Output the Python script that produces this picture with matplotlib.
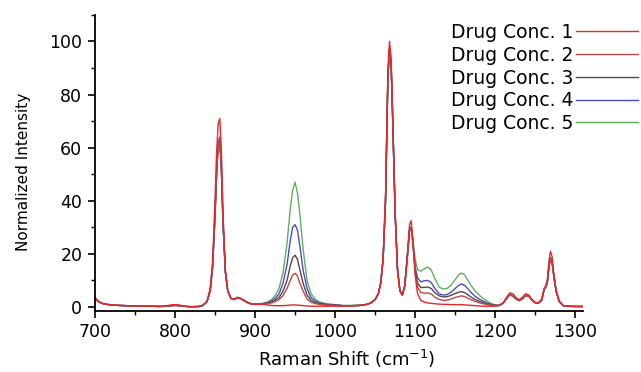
import numpy as np
import matplotlib
matplotlib.use("Agg")
import matplotlib.pyplot as plt
from matplotlib.ticker import MultipleLocator

plt.rcParams['font.family'] = ['DejaVu Sans']

# Raman shift grid (cm^-1), denser around the bands
shift = [700, 703, 706, 710, 715, 720, 730, 740, 750, 760,
         770, 780, 790, 795, 800, 805, 810, 820, 830, 835,
         840, 844, 847, 850, 852, 854, 856, 858, 860, 863,
         866, 870, 875, 878, 882, 886, 890, 895, 900, 905,
         910, 915, 920, 925, 930, 935, 940, 944, 947, 950,
         953, 956, 960, 965, 970, 975, 980, 985, 990, 1000,
         1010, 1020, 1030, 1040, 1045, 1050, 1054, 1057, 1060, 1063,
         1066, 1068, 1070, 1072, 1075, 1078, 1081, 1084, 1087, 1090,
         1093, 1095, 1097, 1100, 1103, 1107, 1112, 1116, 1120, 1125,
         1130, 1135, 1140, 1145, 1150, 1155, 1158, 1162, 1166, 1170,
         1175, 1180, 1185, 1190, 1195, 1200, 1205, 1210, 1214, 1218,
         1222, 1226, 1230, 1234, 1238, 1242, 1246, 1250, 1254, 1258,
         1261, 1263, 1265, 1267, 1269, 1271, 1273, 1276, 1280, 1285,
         1290, 1300, 1310]

conc1 = [3.5, 2.4, 1.8, 1.3, 1.0, 0.8, 0.6, 0.5, 0.4, 0.3,
         0.3, 0.3, 0.5, 0.8, 0.9, 0.8, 0.4, 0.1, 0.2, 0.7,
         2.2, 7, 17, 40, 58, 69, 71, 59, 36, 14,
         6, 3.2, 3.0, 3.6, 3.2, 2.5, 1.8, 1.2, 1.0, 1.0,
         1.0, 0.8, 0.6, 0.5, 0.5, 0.5, 0.6, 0.7, 0.8, 0.8,
         0.7, 0.6, 0.5, 0.4, 0.3, 0.3, 0.3, 0.3, 0.3, 0.3,
         0.3, 0.4, 0.5, 1.0, 1.6, 2.8, 5, 9, 19, 42,
         90, 100, 94, 72, 36, 14, 6, 4.5, 8, 19,
         31, 32.5, 26, 12, 5, 2.5, 1.8, 1.5, 1.4, 1.2,
         1.1, 1.0, 1.0, 0.9, 0.9, 0.9, 0.9, 0.8, 0.7, 0.6,
         0.5, 0.4, 0.3, 0.3, 0.3, 0.3, 0.6, 1.6, 3.6, 5.3,
         5.0, 3.5, 2.7, 3.7, 5.0, 4.5, 2.8, 1.7, 1.6, 3.0,
         7, 8, 10, 17, 21, 19, 13, 6.5, 2.2, 0.5,
         0.3, 0.2, 0.2]

conc2 = [3.5, 2.4, 1.8, 1.3, 1.0, 0.8, 0.6, 0.5, 0.4, 0.3,
         0.3, 0.2, 0.3, 0.5, 0.6, 0.5, 0.3, 0.1, 0.2, 0.6,
         2.0, 6, 15, 34, 50, 61, 63, 52, 32, 13,
         6, 3.2, 3.0, 3.6, 3.2, 2.5, 1.8, 1.2, 1.0, 1.1,
         1.2, 1.3, 1.5, 2.0, 2.8, 4.3, 7, 10, 12, 12.7,
         11.7, 9, 6, 3, 1.8, 1.3, 1.0, 0.8, 0.7, 0.6,
         0.5, 0.5, 0.6, 1.0, 1.6, 2.8, 5, 9, 18, 40,
         87, 97, 91, 70, 35, 14, 6, 4.5, 8, 18,
         29, 30, 24.5, 13, 7.5, 5.5, 5.2, 5.3, 4.9, 3.6,
         2.9, 2.5, 2.6, 3.0, 3.6, 4.0, 4.2, 3.9, 3.3, 2.7,
         2.1, 1.6, 1.2, 0.9, 0.7, 0.5, 0.6, 1.5, 3.2, 4.6,
         4.2, 3.0, 2.4, 3.2, 4.4, 4.0, 2.6, 1.6, 1.5, 2.5,
         6.5, 7.5, 9, 15, 18.5, 17, 12, 6, 2, 0.5,
         0.3, 0.2, 0.2]

conc3 = [3.5, 2.4, 1.8, 1.3, 1.0, 0.8, 0.6, 0.5, 0.4, 0.3,
         0.3, 0.2, 0.3, 0.5, 0.6, 0.5, 0.3, 0.1, 0.2, 0.6,
         2.0, 6, 15, 34, 50, 61, 63, 52, 32, 13,
         6, 3.2, 3.0, 3.6, 3.2, 2.5, 1.8, 1.2, 1.0, 1.1,
         1.2, 1.4, 1.8, 2.5, 3.6, 6, 10, 15.5, 18.5, 19.5,
         18, 14, 9, 4.5, 2.5, 1.7, 1.3, 1.0, 0.9, 0.7,
         0.5, 0.5, 0.6, 1.0, 1.6, 2.8, 5, 9, 18, 40,
         87, 97, 91, 70, 35, 14, 6, 4.5, 8, 18,
         29, 30, 25, 14, 9, 7.3, 7.4, 7.5, 7.0, 5.3,
         4.2, 3.8, 3.9, 4.4, 5.1, 5.6, 5.8, 5.4, 4.6, 3.7,
         2.8, 2.2, 1.6, 1.1, 0.8, 0.6, 0.6, 1.5, 3.2, 4.6,
         4.2, 3.0, 2.4, 3.2, 4.4, 4.0, 2.6, 1.6, 1.5, 2.5,
         6.5, 7.5, 9, 15, 18.5, 17, 12, 6, 2, 0.5,
         0.3, 0.2, 0.2]

conc4 = [3.5, 2.4, 1.8, 1.3, 1.0, 0.8, 0.6, 0.5, 0.4, 0.3,
         0.3, 0.2, 0.3, 0.5, 0.6, 0.5, 0.3, 0.1, 0.2, 0.6,
         2.0, 6, 15, 34, 50, 62, 64, 52, 32, 13,
         6, 3.2, 3.0, 3.6, 3.2, 2.5, 1.8, 1.2, 1.0, 1.1,
         1.3, 1.6, 2.2, 3.2, 5, 9, 16, 25, 30, 31,
         29, 23, 14, 7, 3.5, 2.3, 1.6, 1.2, 1.0, 0.8,
         0.5, 0.5, 0.6, 1.0, 1.6, 2.8, 5, 9, 18, 40,
         87, 97, 91, 70, 35, 14, 6, 4.5, 8, 18,
         29, 30, 25, 15, 11, 9.5, 9.9, 10, 9.2, 6.8,
         5.0, 4.5, 4.7, 5.6, 7.0, 8.3, 8.7, 8.1, 6.8, 5.4,
         4.0, 3.0, 2.2, 1.5, 1.0, 0.7, 0.6, 1.5, 3.2, 4.6,
         4.2, 3.0, 2.4, 3.2, 4.4, 4.0, 2.6, 1.6, 1.5, 2.5,
         6.5, 7.5, 9, 15, 18.5, 17, 12, 6, 2, 0.5,
         0.3, 0.2, 0.2]

conc5 = [3.5, 2.4, 1.8, 1.3, 1.0, 0.8, 0.6, 0.5, 0.4, 0.3,
         0.3, 0.2, 0.3, 0.5, 0.6, 0.5, 0.3, 0.1, 0.2, 0.6,
         2.0, 6, 15, 34, 50, 61, 63, 52, 32, 13,
         6, 3.2, 3.0, 3.6, 3.2, 2.5, 1.8, 1.2, 1.0, 1.1,
         1.4, 1.8, 2.6, 4.2, 7, 13, 24, 37, 44, 47,
         43, 35, 22, 10, 5, 3, 2, 1.5, 1.2, 0.9,
         0.6, 0.6, 0.7, 1.0, 1.6, 2.8, 5, 9, 18, 40,
         87, 97, 91, 70, 35, 14, 6, 4.5, 8, 18,
         29, 30, 26, 18, 14, 13.5, 14.5, 15, 14, 10.5,
         7.5, 6.8, 7.0, 8.3, 10.3, 12.3, 12.8, 12.0, 10.0, 8.0,
         6.0, 4.5, 3.2, 2.2, 1.3, 0.8, 0.6, 1.5, 3.2, 4.6,
         4.2, 3.0, 2.4, 3.2, 4.4, 4.0, 2.6, 1.6, 1.5, 2.5,
         6.5, 7.5, 9, 15, 18.5, 17, 12, 6, 2, 0.5,
         0.3, 0.2, 0.2]

labels = ['Drug Conc. 1', 'Drug Conc. 2', 'Drug Conc. 3',
          'Drug Conc. 4', 'Drug Conc. 5']
colors = ['#e3272a', '#b84a4a', '#5a4646', '#4b4bc8', '#5fae5f']
series = [conc1, conc2, conc3, conc4, conc5]

fig = plt.figure(figsize=(6.41, 3.72), dpi=100)
ax = fig.add_axes([0.148, 0.164, 0.762, 0.796])

handles = [None] * 5
for i in range(4, -1, -1):
    line, = ax.plot(shift, series[i], color=colors[i], lw=1.0, label=labels[i])
    handles[i] = line

ax.set_xlim(700, 1310)
ax.set_ylim(-1.5, 110)
ax.xaxis.set_major_locator(MultipleLocator(100))
ax.xaxis.set_minor_locator(MultipleLocator(50))
ax.yaxis.set_major_locator(MultipleLocator(20))
ax.yaxis.set_minor_locator(MultipleLocator(10))

for s in ['top', 'right']:
    ax.spines[s].set_visible(False)
for s in ['left', 'bottom']:
    ax.spines[s].set_linewidth(1.3)

ax.tick_params(which='major', direction='out', length=5, width=1.2,
               labelsize=12.5, pad=4)
ax.tick_params(which='minor', direction='out', length=3, width=1.0)

ax.set_xlabel('Raman Shift (cm$^{-1}$)', fontsize=13)
ax.set_ylabel('Normalized Intensity', fontsize=11)
ax.xaxis.set_label_coords(0.516, -0.125)
ax.yaxis.set_label_coords(-0.13, 0.47)

ax.legend(handles=handles, loc='upper right',
          bbox_to_anchor=(638 / 641, 1 - 23 / 372),
          bbox_transform=fig.transFigure, frameon=False, markerfirst=False,
          handlelength=3.3, handletextpad=0.15, labelspacing=0.2,
          borderpad=0, borderaxespad=0, fontsize=13.5)

fig.savefig('out.png', dpi=100)
